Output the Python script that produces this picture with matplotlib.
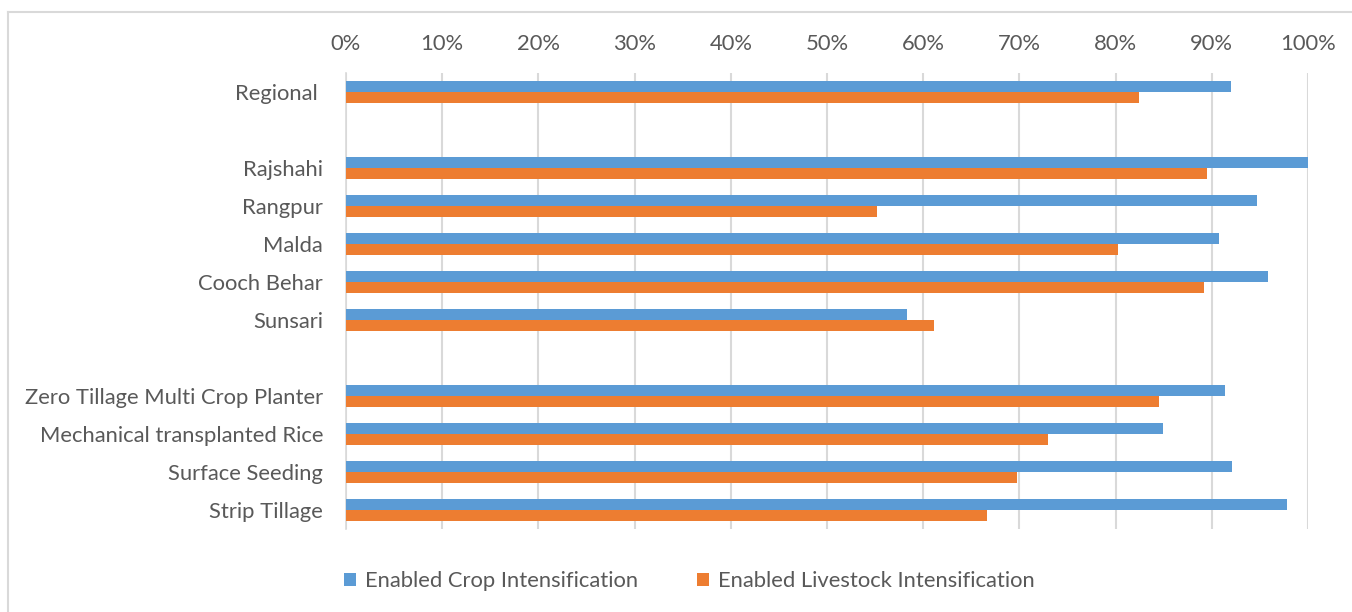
import numpy as np
import matplotlib
matplotlib.use("Agg")
from matplotlib import pyplot as plt
from matplotlib.lines import Line2D
from matplotlib.ticker import PercentFormatter

plt.rcParams['font.family'] = ['Lato', 'DejaVu Sans']

# rows top to bottom, blank strings are spacer rows between groups
labels = ["Regional ", "", "Rajshahi", "Rangpur", "Malda", "Cooch Behar", "Sunsari", "",
          "Zero Tillage Multi Crop Planter", "Mechanical transplanted Rice",
          "Surface Seeding", "Strip Tillage"]
crop = [92.0, np.nan, 100.0, 94.7, 90.7, 95.8, 58.3, np.nan, 91.4, 84.9, 92.1, 97.8]
livestock = [82.4, np.nan, 89.5, 55.2, 80.3, 89.2, 61.1, np.nan, 84.5, 73.0, 69.8, 66.6]
series_names = ["Enabled Crop Intensification", "Enabled Livestock Intensification"]

blue = "#5b9bd5"
orange = "#ed7d31"
text_col = "#595959"
grid_col = "#d9d9d9"
fs = 15.8

fig = plt.figure(figsize=(13.52, 6.12), dpi=100)
ax = fig.add_axes([346 / 1352, 1 - 529 / 612, (1308 - 346) / 1352, (529 - 73) / 612])

y = np.arange(len(labels))
h = 0.29
ax.barh(y - h / 2, crop, height=h, color=blue, label=series_names[0], zorder=3)
ax.barh(y + h / 2, livestock, height=h, color=orange, label=series_names[1], zorder=3)

ax.set_xlim(0, 100)
ax.set_ylim(len(labels) - 0.5, -0.5)
ax.set_xticks(np.arange(0, 101, 10))
ax.xaxis.set_major_formatter(PercentFormatter(decimals=0))
ax.xaxis.tick_top()
ax.set_yticks(y)
ax.set_yticklabels(labels)
ax.tick_params(axis='both', length=0, labelsize=fs, colors=text_col)
ax.tick_params(axis='x', pad=14)
ax.tick_params(axis='y', pad=16.5)
ax.grid(axis='x', color=grid_col, linewidth=1.5, zorder=0)
for s in ["top", "right", "bottom"]:
    ax.spines[s].set_visible(False)
ax.spines["left"].set_color(grid_col)
ax.spines["left"].set_linewidth(1.2)

leg = fig.legend(loc='center', bbox_to_anchor=(0.510, 1 - 581 / 612), ncol=2, frameon=False,
                 fontsize=fs, handlelength=0.55, handleheight=0.55, columnspacing=2.7,
                 handletextpad=0.4)
for t in leg.get_texts():
    t.set_color(text_col)

# outer chart border (left and top edges visible)
fig.add_artist(Line2D([8 / 1352, 8 / 1352], [0, 1 - 12 / 612], transform=fig.transFigure,
                      color=grid_col, linewidth=1.5))
fig.add_artist(Line2D([8 / 1352, 1], [1 - 12 / 612, 1 - 12 / 612], transform=fig.transFigure,
                      color=grid_col, linewidth=1.5))

fig.savefig("out.png", dpi=100, facecolor="white")
